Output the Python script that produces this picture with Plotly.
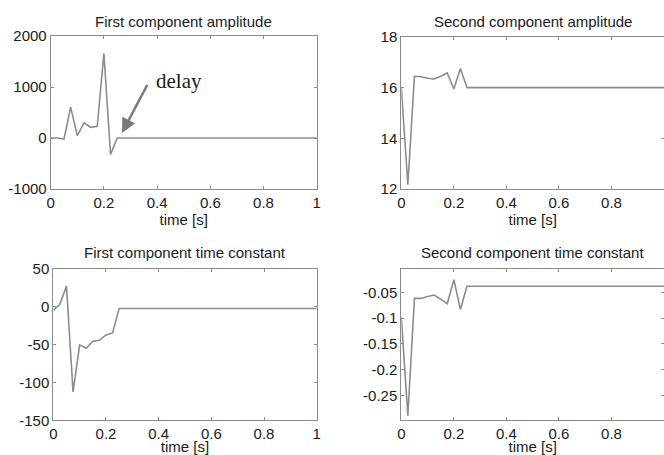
import plotly.graph_objects as go
from plotly.subplots import make_subplots

# time axis (s)
time_s = [0, 0.025, 0.05, 0.075, 0.1, 0.125, 0.15, 0.175, 0.2, 0.225, 0.25,
          0.3, 0.4, 0.5, 0.6, 0.7, 0.8, 0.9, 1.0]

first_amp = [0, 0, -20, 605, 46, 296, 210, 230, 1658, -322, 0,
             0, 0, 0, 0, 0, 0, 0, 0]
second_amp = [16.0, 12.17, 16.45, 16.43, 16.37, 16.34, 16.45, 16.58, 15.95, 16.76, 16.0,
              16.0, 16.0, 16.0, 16.0, 16.0, 16.0, 16.0, 16.0]
first_tc = [-5, 3, 27, -112.5, -50.5, -55, -45.7, -44.4, -37.4, -34.7, -2.6,
            -2.6, -2.6, -2.6, -2.6, -2.6, -2.6, -2.6, -2.6]
second_tc = [-0.098, -0.289, -0.0616, -0.0616, -0.058, -0.055, -0.063, -0.072, -0.0255, -0.083, -0.038,
             -0.038, -0.038, -0.038, -0.038, -0.038, -0.038, -0.038, -0.038]

titles = ["First component amplitude", "Second component amplitude",
          "First component time constant", "Second component time constant"]
x_ticks = [0, 0.2, 0.4, 0.6, 0.8, 1]
x_tick_text = ["0", "0.2", "0.4", "0.6", "0.8", "1"]

LINE = "#8c8c8c"
FRAME = "#8c8c8c"
TXT = "#1a1a1a"
FONT = "Liberation Sans, Arial, sans-serif"
FS = 15

W, H = 664, 455

fig = make_subplots(rows=2, cols=2)
series = [first_amp, second_amp, first_tc, second_tc]
pos = [(1, 1), (1, 2), (2, 1), (2, 2)]
for s, (r, c) in zip(series, pos):
    fig.add_trace(go.Scatter(x=time_s, y=s, mode="lines",
                             line=dict(color=LINE, width=1.6),
                             showlegend=False, hoverinfo="skip"), row=r, col=c)

def px_x(a, b):
    return [a / W, b / W]

def px_y(top, bottom):
    return [1 - bottom / H, 1 - top / H]

dom = {
    (1, 1): (px_x(50.7, 316.7), px_y(36, 189)),
    (1, 2): (px_x(401.3, 664), px_y(37, 189)),
    (2, 1): (px_x(53.3, 316.7), px_y(268.7, 420.3)),
    (2, 2): (px_x(401.3, 664), px_y(268.7, 420.3)),
}

yranges = [[-1000, 2000], [12, 18], [-150, 50], [-0.298, -0.004]]
yticks = [[-1000, 0, 1000, 2000], [12, 14, 16, 18], [-150, -100, -50, 0, 50],
          [-0.25, -0.2, -0.15, -0.1, -0.05]]
ytext = [["-1000", "0", "1000", "2000"], ["12", "14", "16", "18"],
         ["-150", "-100", "-50", "0", "50"], ["-0.25", "-0.2", "-0.15", "-0.1", "-0.05"]]

axis_common = dict(showline=True, linecolor=FRAME, linewidth=1, mirror="ticks",
                   ticks="inside", ticklen=3, tickcolor=FRAME, showgrid=False,
                   zeroline=False, automargin=False,
                   tickfont=dict(family=FONT, size=FS, color=TXT))

for i, (r, c) in enumerate(pos):
    xd, yd = dom[(r, c)]
    fig.update_xaxes(domain=xd, range=[0, 1], tickvals=x_ticks, ticktext=x_tick_text,
                     title=dict(text="time [s]", font=dict(family=FONT, size=FS, color=TXT), standoff=0),
                     row=r, col=c, **axis_common)
    fig.update_yaxes(domain=yd, range=yranges[i], tickvals=yticks[i], ticktext=ytext[i],
                     row=r, col=c, **axis_common)

annotations = []
title_pos = [(183.7, 21), (532.7, 21), (185, 252), (532.7, 252)]
for t, (xp, ypx) in zip(titles, title_pos):
    annotations.append(dict(text=t, x=xp / W, y=1 - ypx / H, xref="paper", yref="paper",
                            showarrow=False, xanchor="center", yanchor="middle",
                            font=dict(family=FONT, size=FS, color=TXT)))

# delay arrow on first panel
annotations.append(dict(x=0.268, y=100, ax=0.366, ay=1071, xref="x", yref="y",
                        axref="x", ayref="y", text="", showarrow=True,
                        arrowhead=2, arrowsize=1.2, arrowwidth=2.4, arrowcolor="#7a7a7a"))
annotations.append(dict(x=0.39, y=1110, xref="x", yref="y", text="delay", showarrow=False,
                        xanchor="left", yanchor="middle",
                        font=dict(family="Liberation Serif, Times New Roman, serif", size=21, color=TXT)))

fig.update_layout(width=W, height=H, margin=dict(l=0, r=0, t=0, b=0, autoexpand=False),
                  paper_bgcolor="white", plot_bgcolor="white", annotations=annotations)

fig.write_html("out.html", config={"displayModeBar": False},
               post_script="document.body.style.margin='0';document.documentElement.style.overflow='hidden';")
